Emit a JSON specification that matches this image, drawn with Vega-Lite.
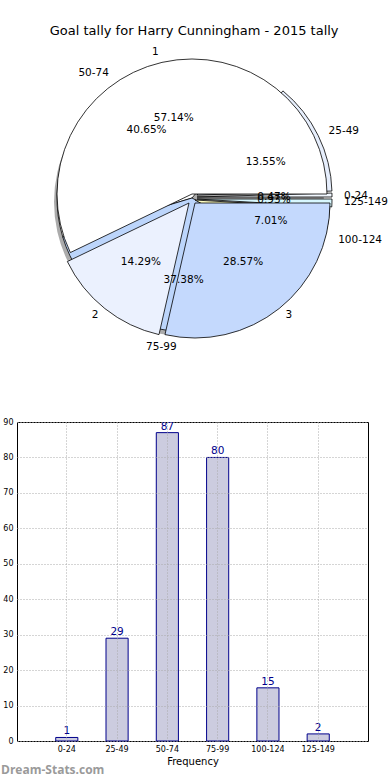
{
  "$schema": "https://vega.github.io/schema/vega-lite/v6.json",
  "padding": {"left": 0, "right": 0, "top": 24, "bottom": 0},
  "title": {"text": "Goal tally for Harry Cunningham - 2015 tally", "fontSize": 13, "font": "DejaVu Sans", "fontWeight": "normal", "color": "#000", "anchor": "middle", "offset": 9},
  "config": {"font": "DejaVu Sans", "view": {"stroke": null}},
  "datasets": {
    "bins": [
      {"bin": "0-24", "count": 1},
      {"bin": "25-49", "count": 29},
      {"bin": "50-74", "count": 87},
      {"bin": "75-99", "count": 80},
      {"bin": "100-124", "count": 15},
      {"bin": "125-149", "count": 2}
    ],
    "parts": [
      {"part": "1", "share": 57.14},
      {"part": "2", "share": 14.29},
      {"part": "3", "share": 28.57}
    ]
  },
  "columns": 1,
  "spacing": 64,
  "concat": [
    {
      "width": 350,
      "height": 300,
      "layer": [
        {
          "data": {"name": "parts"},
          "transform": [
            {"stack": "share", "groupby": [], "offset": "normalize", "as": ["a0", "a1"]}
          ],
          "mark": {"type": "arc", "radius": 135, "fill": "#444", "opacity": 0.45, "xOffset": -3, "yOffset": 4},
          "encoding": {
            "theta": {"field": "a0", "type": "quantitative", "stack": null, "scale": {"domain": [0, 1], "range": [1.5707963, -4.712389]}},
            "theta2": {"field": "a1"}
          }
        },
        {
          "data": {"name": "bins"},
          "transform": [
            {"stack": "count", "groupby": [], "offset": "normalize", "as": ["a0", "a1"]}
          ],
          "encoding": {
            "theta": {"field": "a0", "type": "quantitative", "stack": null},
            "theta2": {"field": "a1"},
            "color": {"field": "bin", "type": "nominal", "legend": null,
              "scale": {"domain": ["1", "2", "3", "0-24", "25-49", "50-74", "75-99", "100-124", "125-149"],
                        "range": ["#ffffff", "#ebf1fe", "#c4d9fd", "#f2f8ff", "#e6eefc", "#ffffff", "#bcd5fb", "#ffffc4", "#d8f8ff"]}}
          },
          "layer": [
            {"transform": [{"filter": {"field": "bin", "oneOf": ["50-74", "75-99"]}}],
             "mark": {"type": "arc", "radius": 135, "stroke": "#000", "strokeWidth": 0.8}},
            {"transform": [{"filter": {"field": "bin", "equal": "25-49"}}],
             "mark": {"type": "arc", "radius": 135, "stroke": "#000", "strokeWidth": 0.8, "xOffset": 5, "yOffset": -3}},
            {"transform": [{"filter": {"field": "bin", "equal": "0-24"}}],
             "mark": {"type": "arc", "radius": 135, "stroke": "#000", "strokeWidth": 0.8, "xOffset": 5, "yOffset": -1}},
            {"transform": [{"filter": {"field": "bin", "equal": "100-124"}}],
             "mark": {"type": "arc", "radius": 135, "stroke": "#000", "strokeWidth": 0.8, "xOffset": 3, "yOffset": 2}},
            {"transform": [{"filter": {"field": "bin", "equal": "125-149"}}],
             "mark": {"type": "arc", "radius": 135, "stroke": "#000", "strokeWidth": 0.8, "xOffset": 5, "yOffset": 1}}
          ]
        },
        {
          "data": {"name": "parts"},
          "transform": [
            {"stack": "share", "groupby": [], "offset": "normalize", "as": ["a0", "a1"]}
          ],
          "encoding": {
            "theta": {"field": "a0", "type": "quantitative", "stack": null},
            "theta2": {"field": "a1"},
            "color": {"field": "part", "type": "nominal", "legend": null}
          },
          "layer": [
            {"transform": [{"filter": {"field": "part", "equal": "1"}}],
             "mark": {"type": "arc", "radius": 135, "stroke": "#000", "strokeWidth": 0.8, "xOffset": 0, "yOffset": -4}},
            {"transform": [{"filter": {"field": "part", "equal": "2"}}],
             "mark": {"type": "arc", "radius": 135, "stroke": "#000", "strokeWidth": 0.8, "xOffset": -3, "yOffset": 5}},
            {"transform": [{"filter": {"field": "part", "equal": "3"}}],
             "mark": {"type": "arc", "radius": 135, "stroke": "#000", "strokeWidth": 0.8, "xOffset": 3, "yOffset": 5}}
          ]
        },
        {
          "data": {"name": "bins"},
          "transform": [
            {"joinaggregate": [{"op": "sum", "field": "count", "as": "total"}]},
            {"stack": "count", "groupby": [], "offset": "normalize", "as": ["a0", "a1"]},
            {"calculate": "(datum.a0 + datum.a1) / 2", "as": "amid"},
            {"calculate": "datum.count / datum.total", "as": "frac"}
          ],
          "encoding": {
            "theta": {"field": "amid", "type": "quantitative", "stack": null}
          },
          "layer": [
            {"transform": [{"filter": {"field": "bin", "oneOf": ["0-24", "25-49", "100-124", "125-149"]}}],
             "mark": {"type": "text", "radius": 152, "align": "left", "baseline": "middle", "fontSize": 10.5, "color": "#000"},
             "encoding": {"text": {"field": "bin"}}},
            {"transform": [{"filter": {"field": "bin", "oneOf": ["50-74", "75-99"]}}],
             "mark": {"type": "text", "radius": 150, "align": "right", "baseline": "middle", "fontSize": 10.5, "color": "#000"},
             "encoding": {"text": {"field": "bin"}}},
            {"mark": {"type": "text", "radius": 82, "align": "center", "baseline": "middle", "fontSize": 10.5, "color": "#000"},
             "encoding": {"text": {"field": "frac", "type": "quantitative", "format": ".2%"}}}
          ]
        },
        {
          "data": {"name": "parts"},
          "transform": [
            {"joinaggregate": [{"op": "sum", "field": "share", "as": "total"}]},
            {"stack": "share", "groupby": [], "offset": "normalize", "as": ["a0", "a1"]},
            {"calculate": "(datum.a0 + datum.a1) / 2", "as": "amid"},
            {"calculate": "datum.share / datum.total", "as": "frac"}
          ],
          "encoding": {
            "theta": {"field": "amid", "type": "quantitative", "stack": null}
          },
          "layer": [
            {"transform": [{"filter": {"field": "part", "equal": "3"}}],
             "mark": {"type": "text", "radius": 150, "align": "left", "baseline": "middle", "fontSize": 10.5, "color": "#000"},
             "encoding": {"text": {"field": "part"}}},
            {"transform": [{"filter": {"field": "part", "oneOf": ["1", "2"]}}],
             "mark": {"type": "text", "radius": 150, "align": "right", "baseline": "middle", "fontSize": 10.5, "color": "#000"},
             "encoding": {"text": {"field": "part"}}},
            {"mark": {"type": "text", "radius": 82, "align": "center", "baseline": "middle", "fontSize": 10.5, "color": "#000"},
             "encoding": {"text": {"field": "frac", "type": "quantitative", "format": ".2%"}}}
          ]
        }
      ]
    },
    {
      "width": 351,
      "height": 319,
      "data": {"name": "bins"},
      "view": {"stroke": "#000", "strokeWidth": 1},
      "title": {"text": "Dream-Stats.com", "orient": "bottom", "anchor": "start", "frame": "bounds", "color": "#9a9a9a", "fontSize": 12, "font": "Open Sans", "fontWeight": "bold", "offset": -1},
      "encoding": {
        "x": {"field": "bin", "type": "nominal", "sort": null, "title": "Frequency",
          "scale": {"paddingInner": 0.56, "paddingOuter": 0.77},
          "axis": {"labelAngle": 0, "labelFontSize": 8, "labelColor": "#000", "ticks": false, "domain": false,
                   "grid": true, "gridDash": [1, 2], "gridColor": "#aaaaaa", "bandPosition": 0.5, "labelPadding": 4,
                   "titleFontSize": 10, "titleFontWeight": "normal", "titlePadding": 3, "titleColor": "#000", "zindex": 1}},
        "y": {"field": "count", "type": "quantitative", "title": null,
          "scale": {"domain": [0, 90]},
          "axis": {"values": [0, 10, 20, 30, 40, 50, 60, 70, 80, 90], "labelFontSize": 8, "labelColor": "#000", "ticks": false, "domain": false,
                   "grid": true, "gridDash": [1, 2], "gridColor": "#aaaaaa", "labelPadding": 4, "minExtent": 16, "maxExtent": 16, "zindex": 1}}
      },
      "layer": [
        {"mark": {"type": "bar", "fill": "#ccccdf", "stroke": "#00008b", "strokeWidth": 1}},
        {"mark": {"type": "text", "dy": -6, "color": "#00008b", "fontSize": 10.5},
         "encoding": {"text": {"field": "count", "type": "quantitative"}}}
      ]
    }
  ]
}
